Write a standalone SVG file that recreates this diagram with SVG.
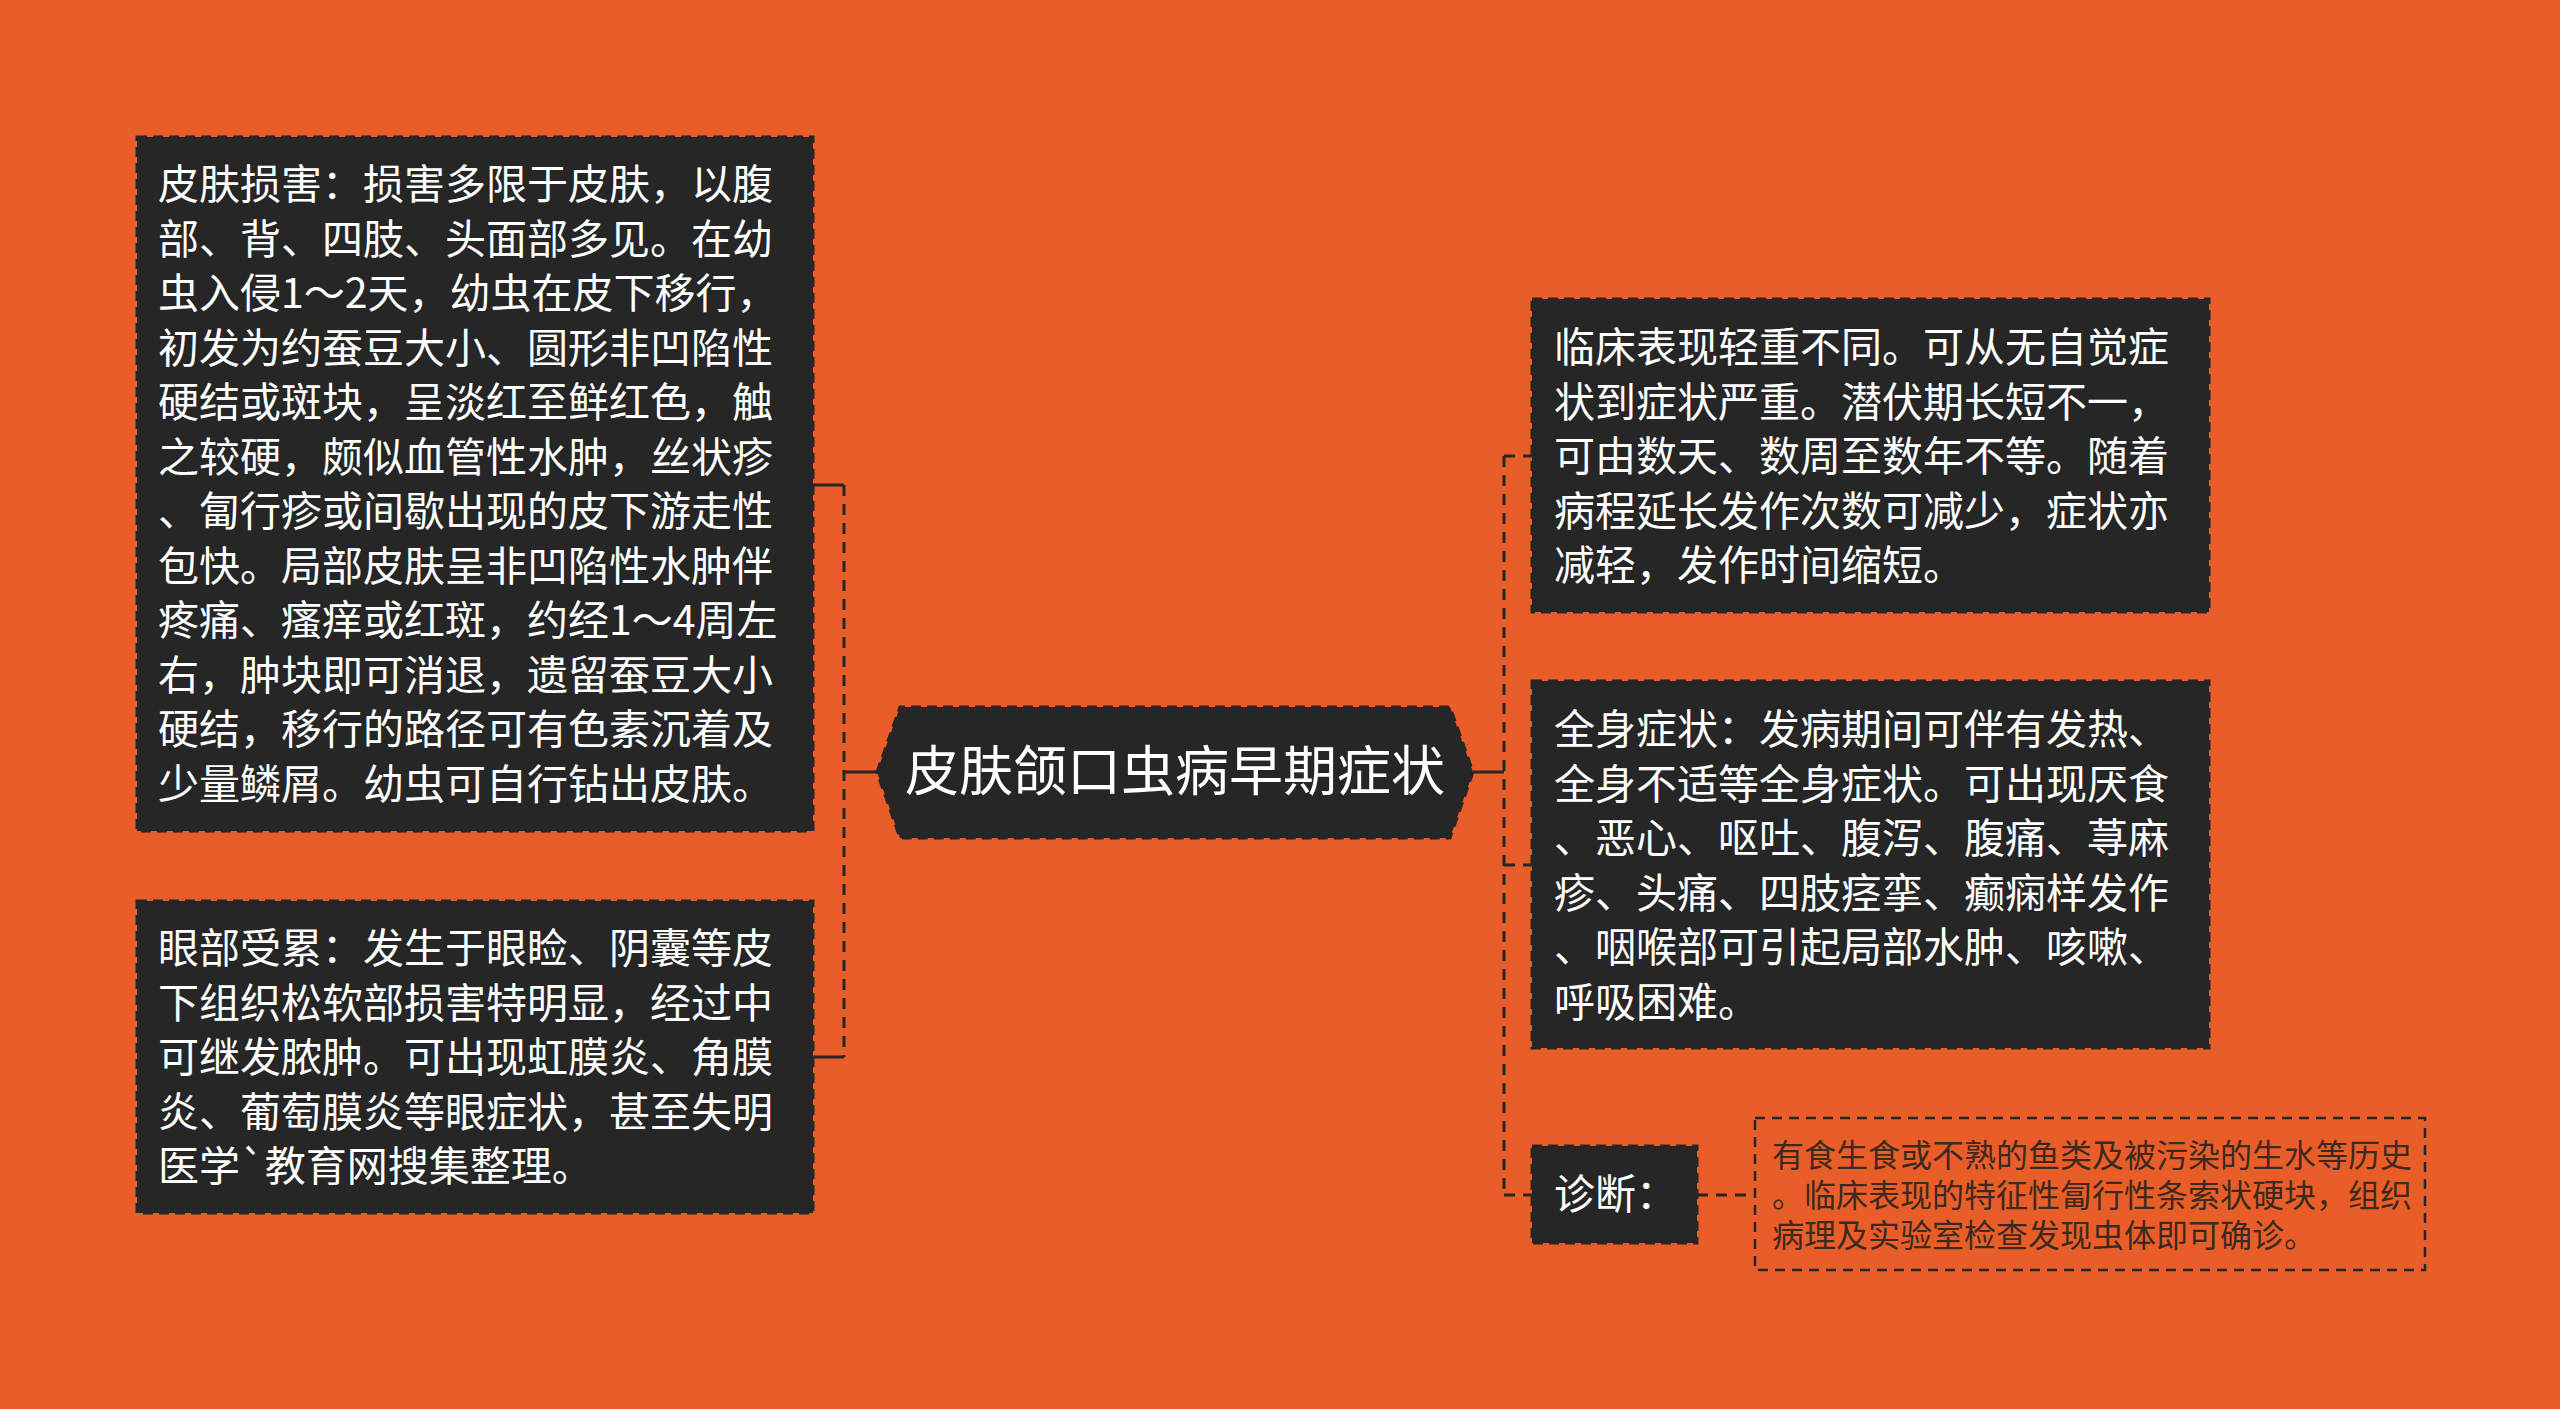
<svg xmlns="http://www.w3.org/2000/svg" width="2560" height="1409" viewBox="0 0 2560 1409">
<style>
.node{fill:#262626;stroke:#262626;stroke-width:3;stroke-dasharray:10 6}
.t{font-family:"Noto Sans CJK SC","Noto Sans",sans-serif;fill:#ffffff;font-size:41px}
.title{font-size:54px}
.detail{font-family:"Noto Sans CJK SC","Noto Sans",sans-serif;fill:#3c2a20;font-size:32px}
.conn{fill:none;stroke:#262626;stroke-width:3}
.dash{stroke-dasharray:11 8}
</style>
<rect width="2560" height="1409" fill="#E95D28"/>
<g id="connectors">
<path class="conn" d="M877 772 H844"/>
<path class="conn dash" d="M844 485 V1057"/>
<path class="conn" d="M813 485 H844 M813 1057 H844"/>
<path class="conn" d="M1473 772 H1504"/>
<path class="conn dash" d="M1504 456 V1195"/>
<path class="conn dash" d="M1504 456 H1532 M1504 865 H1532 M1504 1195 H1532"/>
<path class="conn dash" d="M1697 1195 H1755"/>
</g>
<g id="center">
<polygon class="node" points="877,772 900,707 1450,707 1473,772 1450,838 900,838"/>
<text class="t title" x="1175" y="791" text-anchor="middle">皮肤颌口虫病早期症状</text>
</g>
<g id="skin">
<rect class="node" x="137" y="137" width="676" height="694"/>
<text class="t" x="158" y="199">
<tspan x="158" y="199">皮肤损害：损害多限于皮肤，以腹</tspan>
<tspan x="158" y="253.5">部、背、四肢、头面部多见。在幼</tspan>
<tspan x="158" y="308">虫入侵1～2天，幼虫在皮下移行，</tspan>
<tspan x="158" y="362.5">初发为约蚕豆大小、圆形非凹陷性</tspan>
<tspan x="158" y="417">硬结或斑块，呈淡红至鲜红色，触</tspan>
<tspan x="158" y="471.5">之较硬，颇似血管性水肿，丝状疹</tspan>
<tspan x="158" y="526">、匐行疹或间歇出现的皮下游走性</tspan>
<tspan x="158" y="580.5">包快。局部皮肤呈非凹陷性水肿伴</tspan>
<tspan x="158" y="635">疼痛、瘙痒或红斑，约经1～4周左</tspan>
<tspan x="158" y="689.5">右，肿块即可消退，遗留蚕豆大小</tspan>
<tspan x="158" y="744">硬结，移行的路径可有色素沉着及</tspan>
<tspan x="158" y="798.5">少量鳞屑。幼虫可自行钻出皮肤。</tspan>
</text>
</g>
<g id="eye">
<rect class="node" x="137" y="901" width="676" height="312"/>
<text class="t">
<tspan x="158" y="963">眼部受累：发生于眼睑、阴囊等皮</tspan>
<tspan x="158" y="1017.5">下组织松软部损害特明显，经过中</tspan>
<tspan x="158" y="1072">可继发脓肿。可出现虹膜炎、角膜</tspan>
<tspan x="158" y="1126.5">炎、葡萄膜炎等眼症状，甚至失明</tspan>
<tspan x="158" y="1181">医学`教育网搜集整理。</tspan>
</text>
</g>
<g id="clinical">
<rect class="node" x="1532" y="299" width="677" height="313"/>
<text class="t">
<tspan x="1554" y="362">临床表现轻重不同。可从无自觉症</tspan>
<tspan x="1554" y="416.5">状到症状严重。潜伏期长短不一，</tspan>
<tspan x="1554" y="471">可由数天、数周至数年不等。随着</tspan>
<tspan x="1554" y="525.5">病程延长发作次数可减少，症状亦</tspan>
<tspan x="1554" y="580">减轻，发作时间缩短。</tspan>
</text>
</g>
<g id="systemic">
<rect class="node" x="1532" y="681" width="677" height="367"/>
<text class="t">
<tspan x="1554" y="744">全身症状：发病期间可伴有发热、</tspan>
<tspan x="1554" y="798.5">全身不适等全身症状。可出现厌食</tspan>
<tspan x="1554" y="853">、恶心、呕吐、腹泻、腹痛、荨麻</tspan>
<tspan x="1554" y="907.5">疹、头痛、四肢痉挛、癫痫样发作</tspan>
<tspan x="1554" y="962">、咽喉部可引起局部水肿、咳嗽、</tspan>
<tspan x="1554" y="1016.5">呼吸困难。</tspan>
</text>
</g>
<g id="diagnosis">
<rect class="node" x="1532" y="1146" width="165" height="97"/>
<text class="t" x="1554" y="1209">诊断：</text>
</g>
<g id="diagnosis-detail">
<rect x="1755" y="1118" width="670" height="152" fill="none" stroke="#262626" stroke-width="2.5" stroke-dasharray="10 7"/>
<text class="detail">
<tspan x="1772" y="1167">有食生食或不熟的鱼类及被污染的生水等历史</tspan>
<tspan x="1772" y="1207">。临床表现的特征性匐行性条索状硬块，组织</tspan>
<tspan x="1772" y="1247">病理及实验室检查发现虫体即可确诊。</tspan>
</text>
</g>
</svg>
